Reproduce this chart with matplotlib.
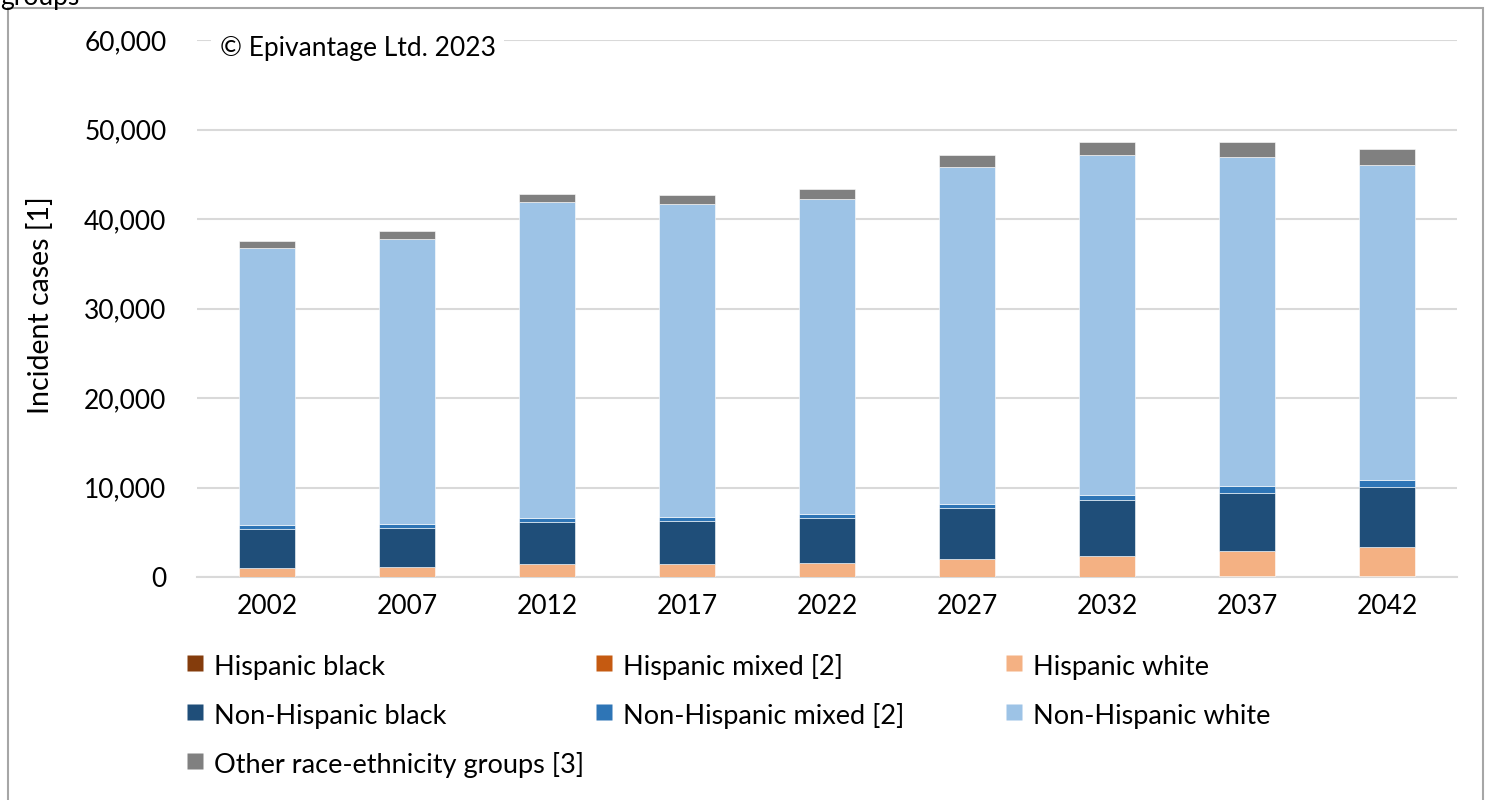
# -*- coding: utf-8 -*-
"""Incident cases by race-ethnicity group, stacked bars, 2002-2042."""

import matplotlib

matplotlib.use("Agg")
import numpy as np
from matplotlib import pyplot as plt
from matplotlib.lines import Line2D
from matplotlib.patches import Rectangle
from matplotlib.ticker import FuncFormatter

years = ["2002", "2007", "2012", "2017", "2022", "2027", "2032", "2037", "2042"]

hispanic_black = [15, 15, 20, 20, 20, 25, 30, 35, 40]
hispanic_mixed = [10, 10, 15, 15, 15, 20, 25, 25, 30]
hispanic_white = [1030, 1140, 1420, 1470, 1540, 1920, 2320, 2840, 3230]
non_hispanic_black = [4320, 4320, 4700, 4760, 5070, 5740, 6220, 6520, 6750]
non_hispanic_mixed = [380, 420, 450, 450, 410, 490, 560, 700, 750]
non_hispanic_white = [31050, 31900, 35310, 34980, 35230, 37640, 37940, 36830, 35220]
other_groups = [750, 830, 930, 970, 1090, 1300, 1460, 1640, 1850]

series = [
    ("Hispanic black", hispanic_black, "#843C0C"),
    ("Hispanic mixed [2]", hispanic_mixed, "#C55A11"),
    ("Hispanic white", hispanic_white, "#F4B183"),
    ("Non-Hispanic black", non_hispanic_black, "#1F4E79"),
    ("Non-Hispanic mixed [2]", non_hispanic_mixed, "#2E75B6"),
    ("Non-Hispanic white", non_hispanic_white, "#9DC3E6"),
    ("Other race-ethnicity groups [3]", other_groups, "#808080"),
]

plt.rcParams["font.family"] = ["Lato", "DejaVu Sans"]
plt.rcParams["font.size"] = 19

fig = plt.figure(figsize=(14.92, 8), dpi=100)
ax = fig.add_axes([197 / 1492, 1 - 577 / 800, 1260 / 1492, 537 / 800])

# Stacked bars
x = np.arange(len(years))
bottom = np.zeros(len(years))
for name, vals, color in series:
    ax.bar(x, vals, 0.4, bottom=bottom, color=color, edgecolor="white",
           linewidth=0.4, zorder=3, label=name)
    bottom += np.array(vals)

# Axes styling
ax.set_xlim(-0.5, len(years) - 0.5)
ax.set_ylim(0, 60000)
ax.set_yticks(np.arange(0, 60001, 10000))
ax.yaxis.set_major_formatter(FuncFormatter(lambda v, p: "{:,.0f}".format(v)))
ax.set_xticks(x)
ax.set_xticklabels(years)
ax.grid(axis="y", color="#D9D9D9", linewidth=1.5, zorder=0)
for side in ["top", "right", "left"]:
    ax.spines[side].set_visible(False)
ax.spines["bottom"].set_color("#D9D9D9")
ax.spines["bottom"].set_linewidth(1.5)
ax.tick_params(axis="both", length=0, labelsize=19, colors="black")
ax.tick_params(axis="y", pad=22)
ax.tick_params(axis="x", pad=12)

fig.text(41 / 1492, 1 - 305 / 800, "Incident cases [1]", rotation=90,
         ha="center", va="center", fontsize=20.5)

# Copyright note over the top gridline
ax.text(0.018, 0.984, "\u00a9 Epivantage Ltd. 2023", transform=ax.transAxes,
        ha="left", va="center", fontsize=19, zorder=5,
        bbox=dict(facecolor="white", edgecolor="none", pad=6))

# Legend: three columns with equal widths, one legend per column
columns = [[0, 3, 6], [1, 4], [2, 5]]
col_x = [184, 593, 1003]
for xpos, idxs in zip(col_x, columns):
    handles = [Line2D([], [], marker="s", linestyle="none", markersize=11.5,
                      markerfacecolor=series[i][2], markeredgecolor="none")
               for i in idxs]
    labels = [series[i][0] for i in idxs]
    fig.legend(handles, labels, loc="upper left",
               bbox_to_anchor=(xpos / 1492, 1 - 651 / 800), frameon=False,
               fontsize=19.5, handlelength=0.8, handleheight=1.3,
               handletextpad=0.3, labelspacing=0.72, borderpad=0,
               borderaxespad=0)

# Outer border of the chart area
fig.patches.append(Rectangle((8 / 1492, -0.02), 1475 / 1492, 1.02 - 8 / 800,
                             transform=fig.transFigure, fill=False,
                             edgecolor="#A6A6A6", linewidth=1.5))

# Cut-off caption line at the very top
fig.text(0, 1 + 2 / 800, "groups", ha="left", va="center", fontsize=19)

fig.savefig("out.png", dpi=100)
